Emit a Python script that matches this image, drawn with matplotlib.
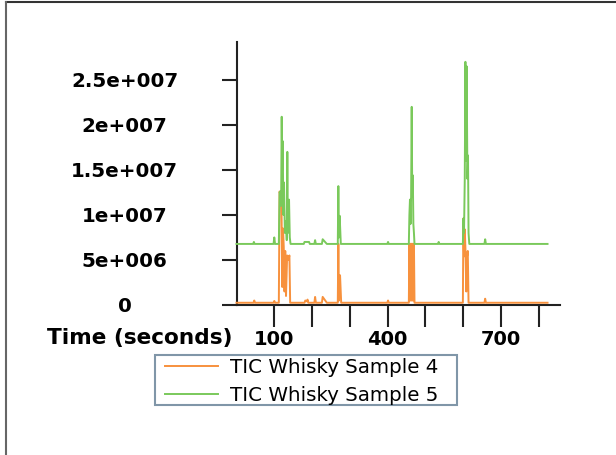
import numpy as np
import matplotlib.pyplot as plt
from matplotlib.lines import Line2D
from matplotlib.patches import Rectangle

# TIC traces, (time in s, intensity in 1e6 counts)
sample4 = [(0, 0.25), (45, 0.25), (47, 0.5), (49, 0.25), (98, 0.25), (100, 0.45), (102, 0.25),
           (112, 0.25), (114, 12.6), (117, 12.0), (119, 11.5), (121, 2.0), (123, 8.5),
           (125, 6.5), (127, 1.5), (129, 6.0), (131, 1.0), (134, 5.5), (137, 5.0),
           (140, 5.5), (142, 0.25), (180, 0.25), (182, 0.5), (186, 0.4), (188, 0.6),
           (190, 0.25), (206, 0.25), (208, 0.9), (210, 0.25), (226, 0.25), (228, 0.9),
           (239, 0.25), (268, 0.25), (269.5, 6.8), (271, 0.5), (274, 3.3), (277, 0.25),
           (399, 0.25), (401, 0.5), (403, 0.25), (456, 0.25), (457.5, 6.8), (459, 0.5),
           (460.5, 6.8), (462, 0.5), (463.5, 6.8), (465, 0.5), (466.5, 6.8), (468, 0.5),
           (469.5, 6.8), (471, 0.25), (599, 0.25), (600.4, 9.6), (602, 5.4), (604, 8.4),
           (606, 6.0), (608, 1.5), (610, 5.4), (612, 6.0), (614, 0.25), (656, 0.25),
           (658, 0.7), (660, 0.25), (823, 0.25)]

sample5 = [(0, 6.78), (44, 6.78), (46, 7.0), (48, 6.78), (98, 6.78), (100, 7.5), (102, 6.78),
           (112, 6.78), (114, 12.5), (116, 12.6), (118, 11.0), (119.6, 20.9), (121, 15.0),
           (122.3, 18.2), (124, 10.0), (125.7, 13.6), (128, 8.0), (131, 9.3), (133, 7.2),
           (134.5, 17.0), (136, 8.0), (139, 11.7), (141, 7.5), (143, 6.78), (178, 6.78),
           (180, 7.0), (192, 7.0), (194, 6.78), (206, 6.78), (208, 7.2), (210, 6.78),
           (226, 6.78), (228, 7.3), (239, 6.78), (268, 6.78), (269.5, 13.2), (271, 7.5),
           (273, 9.9), (276, 6.78), (399, 6.78), (401, 7.0), (403, 6.78), (456, 6.78),
           (457.5, 10.0), (459, 11.7), (460.5, 9.0), (462, 12.0), (463.6, 22.0), (465, 12.0),
           (466.5, 14.4), (468, 9.0), (469.5, 8.0), (471, 6.78), (533, 6.78), (535, 7.0),
           (537, 6.78), (599, 6.78), (600.4, 9.6), (602, 8.0), (604, 14.0), (605.7, 27.0),
           (607, 16.0), (609, 26.5), (611, 14.0), (612.6, 16.6), (614, 8.0), (616, 6.78),
           (656, 6.78), (658, 7.3), (660, 6.78), (823, 6.78)]

series_labels = ['TIC Whisky Sample 4', 'TIC Whisky Sample 5']
series_colors = ['#f7913d', '#7ac95b']

x_ticks = [100, 200, 300, 400, 500, 600, 700, 800]
x_ticklabels = ['100', '', '', '400', '', '', '700', '']
y_ticks = [0, 5e6, 1e7, 1.5e7, 2e7, 2.5e7]
y_ticklabels = ['0', '5e+006', '1e+007', '1.5e+007', '2e+007', '2.5e+007']

W, H = 616, 455
fig = plt.figure(figsize=(W / 100, H / 100), dpi=100)
ax = fig.add_axes([236.5 / W, 1 - 305 / H, (560 - 236.5) / W, (305 - 42) / H])

for pts, lab, col in zip([sample4, sample5], series_labels, series_colors):
    arr = np.array(pts)
    ax.plot(arr[:, 0], arr[:, 1] * 1e6, color=col, lw=1.4, label=lab,
            zorder=3, clip_on=False)

ax.set_xlim(0, 856)
ax.set_ylim(0, 2.92e7)

for side in ['top', 'right']:
    ax.spines[side].set_visible(False)
for side in ['left', 'bottom']:
    ax.spines[side].set_color('#222222')
    ax.spines[side].set_linewidth(1.5)

ax.set_xticks(x_ticks)
ax.set_xticklabels(x_ticklabels, fontsize=14, fontweight='bold')
ax.set_yticks(y_ticks)
ax.set_yticklabels(y_ticklabels, fontsize=14.3, fontweight='bold')
ax.tick_params(axis='x', length=16, width=1.5, color='#222222', pad=2)
ax.tick_params(axis='y', length=11, width=1.5, color='#222222', pad=69.5)
for lbl in ax.get_yticklabels():
    lbl.set_ha('center')

fig.text(233 / W, 1 - 338 / H, 'Time (seconds)', fontsize=15.6, fontweight='bold',
         ha='right', va='center')

# legend box drawn by hand, entries placed inside it
fig.add_artist(Rectangle((155 / W, 1 - 405 / H), 302 / W, 50 / H, transform=fig.transFigure,
                         facecolor='white', edgecolor='#8096a8', lw=1.5, zorder=4))
leg = fig.legend(loc='center left', bbox_to_anchor=(165 / W, 1 - 381.5 / H),
                 fontsize=14.3, frameon=False, handlelength=2.68, handletextpad=0.57,
                 labelspacing=0.41, borderpad=0, borderaxespad=0)
leg.set_zorder(5)

# thin frame on the top and left edge of the picture
fig.add_artist(Line2D([6 / W, 1], [1 - 2 / H, 1 - 2 / H], color='#333333', lw=1.5))
fig.add_artist(Line2D([6 / W, 6 / W], [0, 1 - 2 / H], color='#666666', lw=1.5))

fig.savefig('out.png', dpi=100)
